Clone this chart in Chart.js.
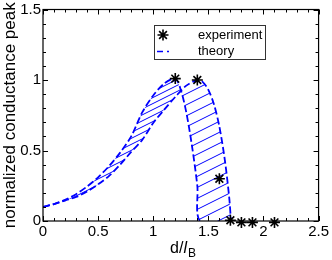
<!DOCTYPE html>
<html>
<head>
<meta charset="utf-8">
<script src="https://cdn.jsdelivr.net/npm/chart.js@4"></script>
<style>
  html, body { margin: 0; padding: 0; background: #fff; }
  #wrap { width: 332px; height: 260px; }
</style>
</head>
<body>
<div id="wrap"><canvas id="peakChart" width="332" height="260"></canvas></div>
<script>
// --- values ---
const expX = [1.2, 1.4, 1.6, 1.7, 1.8, 1.9, 2.1];
const expY = [1.01, 1.0, 0.3, 0.005, -0.01, -0.01, -0.01];

// theory band: left/upper edge (last point only closes the band along y=0)
const upperX = [0, 0.1, 0.2, 0.3, 0.4, 0.5, 0.6, 0.7, 0.8, 0.9, 1.0, 1.1, 1.2, 1.25, 1.3, 1.35, 1.4, 1.425, 1.705];
const upperY = [0.10, 0.12, 0.15, 0.19, 0.245, 0.31, 0.39, 0.485, 0.60, 0.77, 0.89, 0.975, 1.01, 0.93, 0.77, 0.54, 0.25, 0, 0];

// theory band: right/lower edge
const lowerX = [0, 0.1, 0.2, 0.3, 0.4, 0.5, 0.6, 0.7, 0.8, 0.9, 1.0, 1.1, 1.2, 1.3, 1.4, 1.45, 1.5, 1.55, 1.6, 1.65, 1.69, 1.705];
const lowerY = [0.10, 0.12, 0.145, 0.17, 0.21, 0.26, 0.32, 0.40, 0.49, 0.575, 0.695, 0.79, 0.88, 0.96, 1.0, 0.985, 0.93, 0.83, 0.67, 0.43, 0.16, 0];

const xTicks = [0, 0.5, 1, 1.5, 2, 2.5];
const yTicks = [0, 0.5, 1, 1.5];

const FONT = '"Liberation Sans", Arial, sans-serif';
const BLUE = '#0000ff';
const CUT = 1.25;   // where the rising part of the band hands over to the falling part

// diagonal hatch, tile w x h with one line per tile
function makeHatch(w, h) {
    const c = document.createElement('canvas');
    c.width = w; c.height = h;
    const g = c.getContext('2d');
    g.strokeStyle = BLUE;
    g.lineWidth = 1;
    for (let k = -1; k <= 1; k++) {
        g.beginPath();
        g.moveTo(-w, 2 * h + k * h);
        g.lineTo(2 * w, -h + k * h);
        g.stroke();
    }
    return g.createPattern(c, 'repeat');
}

const toPts = (xs, ys) => xs.map((x, i) => ({ x, y: ys[i] }));
const upperPts = toPts(upperX, upperY);
const lowerPts = toPts(lowerX, lowerY);

// box, inward ticks on all four sides, legend, x title
const framePlugin = {
    id: 'frame',
    afterDatasetsDraw(chart) {
        const { ctx, chartArea: a, scales } = chart;
        const xs = scales.x, ys = scales.y;
        ctx.save();
        ctx.strokeStyle = '#000';
        ctx.lineWidth = 1.2;
        ctx.strokeRect(a.left, a.top, a.right - a.left, a.bottom - a.top);
        ctx.lineWidth = 1;
        ctx.beginPath();
        for (let i = 0; i <= 25; i++) {
            const px = Math.round(xs.getPixelForValue(i / 10)) + 0.5;
            const len = i % 5 === 0 ? 5 : 3;
            ctx.moveTo(px, a.bottom); ctx.lineTo(px, a.bottom - len);
            ctx.moveTo(px, a.top); ctx.lineTo(px, a.top + len);
        }
        for (let i = 0; i <= 15; i++) {
            const py = Math.round(ys.getPixelForValue(i / 10)) + 0.5;
            const len = i % 5 === 0 ? 5 : 3;
            ctx.moveTo(a.left, py); ctx.lineTo(a.left + len, py);
            ctx.moveTo(a.right, py); ctx.lineTo(a.right - len, py);
        }
        ctx.stroke();
        ctx.restore();
    },
    afterDraw(chart) {
        const { ctx } = chart;
        ctx.save();
        // legend box
        ctx.fillStyle = '#fff';
        ctx.fillRect(154, 25, 112, 34);
        ctx.strokeStyle = '#333';
        ctx.lineWidth = 1;
        ctx.strokeRect(154.5, 25.5, 111, 34);
        ctx.strokeStyle = '#000';
        ctx.lineWidth = 1.6;
        Chart.helpers.drawPoint(ctx, { pointStyle: 'star', radius: 5.5, borderWidth: 1.6 }, 163, 35);
        ctx.strokeStyle = BLUE;
        ctx.lineWidth = 1.6;
        ctx.beginPath();
        ctx.moveTo(157, 51.5); ctx.lineTo(163, 51.5);
        ctx.moveTo(167, 51.5); ctx.lineTo(169, 51.5);
        ctx.stroke();
        ctx.fillStyle = '#000';
        ctx.font = '13px ' + FONT;
        ctx.textBaseline = 'middle';
        ctx.textAlign = 'left';
        ctx.fillText('experiment', 198, 35);
        ctx.fillText('theory', 198, 51);

        // x title: d/l_B
        const base = 253;
        ctx.textBaseline = 'alphabetic';
        ctx.font = '16px ' + FONT;
        const w1 = ctx.measureText('d/').width;
        ctx.font = 'italic 16px ' + FONT;
        const w2 = ctx.measureText('l').width;
        ctx.font = '12px ' + FONT;
        const w3 = ctx.measureText('B').width;
        const x0 = 183 - (w1 + w2 + w3 + 1) / 2;
        ctx.font = '16px ' + FONT;
        ctx.fillText('d/', x0, base);
        ctx.font = 'italic 16px ' + FONT;
        ctx.fillText('l', x0 + w1, base);
        ctx.font = '12px ' + FONT;
        ctx.fillText('B', x0 + w1 + w2 + 1, base + 4);
        ctx.restore();
    }
};

const hidden = 'rgba(0,0,0,0)';

document.addEventListener('DOMContentLoaded', () => {
    const ctx = document.getElementById('peakChart');
    new Chart(ctx, {
        type: 'scatter',
        data: {
            datasets: [
                {
                    label: 'experiment',
                    data: toPts(expX, expY),
                    pointStyle: 'star',
                    pointRadius: 5.5,
                    borderColor: '#000',
                    borderWidth: 1.6,
                    showLine: false,
                    clip: false
                },
                {
                    label: 'theory',
                    data: upperPts,
                    showLine: true,
                    borderColor: BLUE,
                    borderWidth: 1.8,
                    borderDash: [7, 3],
                    pointRadius: 0,
                    tension: 0.3,
                    fill: false,
                    segment: {
                        borderColor: c => c.p0.parsed.x >= 1.42 ? hidden : undefined
                    }
                },
                {
                    label: 'theory (edge)',
                    data: lowerPts,
                    showLine: true,
                    borderColor: BLUE,
                    borderWidth: 1.8,
                    borderDash: [7, 3],
                    pointRadius: 0,
                    tension: 0.3,
                    fill: false
                },
                {
                    // hatch of the rising part
                    label: 'hatch rising',
                    data: upperPts.filter(p => p.x <= CUT),
                    showLine: true,
                    borderColor: hidden,
                    borderWidth: 0,
                    pointRadius: 0,
                    tension: 0.3,
                    fill: 2,
                    backgroundColor: makeHatch(12, 6)
                },
                {
                    // hatch of the falling part
                    label: 'hatch falling',
                    data: upperPts.filter(p => p.x >= CUT),
                    showLine: true,
                    borderColor: hidden,
                    borderWidth: 0,
                    pointRadius: 0,
                    tension: 0.3,
                    fill: 2,
                    backgroundColor: makeHatch(22, 11)
                }
            ]
        },
        options: {
            responsive: false,
            animation: false,
            layout: { padding: { top: 8, right: 11, left: 0, bottom: 0 } },
            plugins: {
                legend: { display: false },
                tooltip: { enabled: false }
            },
            scales: {
                x: {
                    type: 'linear',
                    min: 0, max: 2.5,
                    afterBuildTicks: s => { s.ticks = xTicks.map(v => ({ value: v })); },
                    afterFit: s => { s.height = 39; },
                    grid: { display: false, drawTicks: false },
                    border: { display: false },
                    ticks: {
                        color: '#000', padding: 3, maxRotation: 0,
                        callback: v => String(v),
                        font: { family: FONT, size: 15, lineHeight: 1 }
                    }
                },
                y: {
                    type: 'linear',
                    min: 0, max: 1.5,
                    afterBuildTicks: s => { s.ticks = yTicks.map(v => ({ value: v })); },
                    afterFit: s => { s.width = 43; },
                    grid: { display: false, drawTicks: false },
                    border: { display: false },
                    ticks: {
                        color: '#000', padding: 2,
                        callback: v => String(v),
                        font: { family: FONT, size: 15, lineHeight: 1 }
                    },
                    title: {
                        display: true,
                        text: 'normalized conductance peak',
                        color: '#000',
                        font: { family: FONT, size: 17 },
                        padding: { top: 0, bottom: 0 }
                    }
                }
            }
        },
        plugins: [framePlugin]
    });
});
</script>
</body>
</html>
